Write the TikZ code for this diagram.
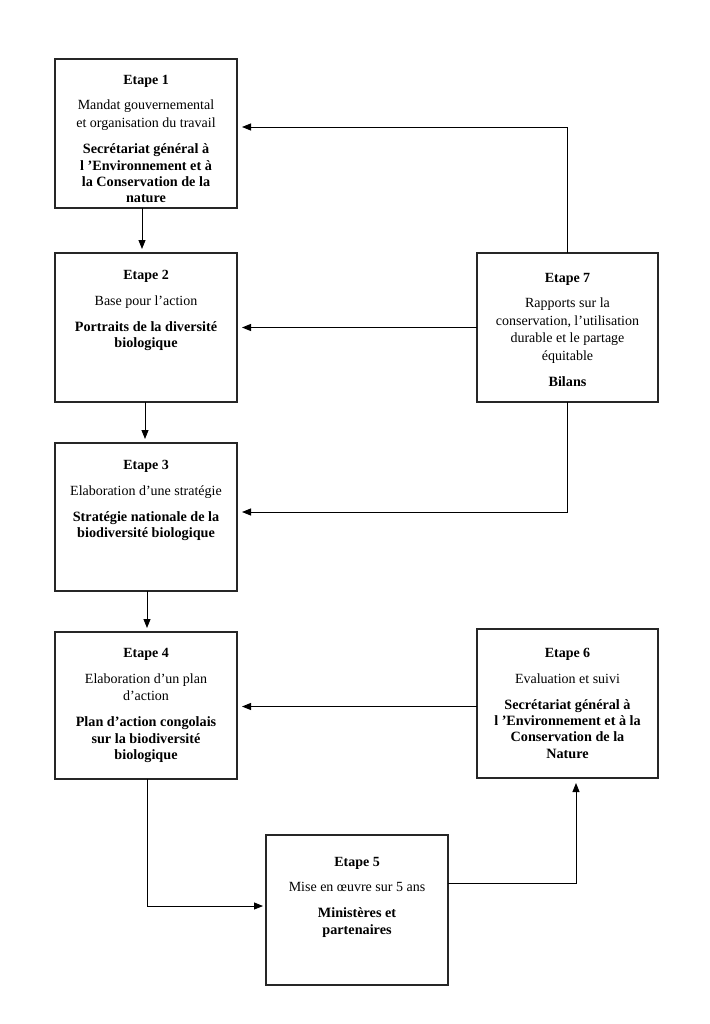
\documentclass[tikz,border=0pt]{standalone}
\usepackage{fontspec}
\setmainfont{Liberation Serif}
\usetikzlibrary{arrows.meta,calc}
\newcommand{\etapecontent}[6][25.5pt]{%
\begin{minipage}[t][#5][t]{#6}\centering
\fontsize{14}{17.5}\selectfont
\rule{0pt}{#1}\textbf{#2}\par
\vspace{8pt}
#3\par
\vspace{10pt}
{\bfseries\fontsize{14.2}{16.3}\selectfont #4\par}
\end{minipage}}
\tikzset{
  etapebox/.style={draw=black!85, line width=1.1pt, inner sep=0pt, outer sep=0pt, fill=white},
  arr/.style={draw=black, line width=0.9pt, -{Triangle[length=9pt,width=7pt]}, shorten >=4pt}
}
\begin{document}
\begin{tikzpicture}[x=1pt,y=1pt]
\useasboundingbox[fill=white] (0,0) rectangle (709,-1024);

\node[etapebox] (b1) at (146,-133.5) {\etapecontent{Etape 1}{Mandat gouvernemental\\et organisation du travail}{Secrétariat général à\\l ’Environnement et à\\la Conservation de la\\nature}{149pt}{182pt}};

\node[etapebox] (b2) at (146,-327.5) {\etapecontent[26.5pt]{Etape 2}{Base pour l’action}{Portraits de la diversité\\biologique}{149pt}{182pt}};

\node[etapebox] (b3) at (146,-517) {\etapecontent[26.5pt]{Etape 3}{Elaboration d’une stratégie}{Stratégie nationale de la\\biodiversité biologique}{148pt}{182pt}};

\node[etapebox] (b4) at (146,-705.5) {\etapecontent{Etape 4}{Elaboration d’un plan\\d’action}{Plan d’action congolais\\sur la biodiversité\\biologique}{147pt}{182pt}};

\node[etapebox] (b7) at (567.5,-327.5) {\etapecontent[29pt]{Etape 7}{Rapports sur la\\conservation, l’utilisation\\durable et le partage\\équitable}{Bilans}{149pt}{181pt}};

\node[etapebox] (b6) at (567.5,-703.5) {\etapecontent[28.5pt]{Etape 6}{Evaluation et suivi}{Secrétariat général à\\l ’Environnement et à la\\Conservation de la\\Nature}{149pt}{181pt}};

\node[etapebox] (b5) at (357,-910) {\etapecontent[31pt]{Etape 5}{Mise en œuvre sur 5 ans}{Ministères et\\partenaires}{150pt}{182pt}};

% vertical arrows on the left column
\draw[arr] ([xshift=-4pt]b1.south) -- ([xshift=-4pt]b2.north);
\draw[arr] ([xshift=-1pt]b2.south) -- ([xshift=-1pt]b3.north);
\draw[arr] ([xshift=1pt]b3.south) -- ([xshift=1pt]b4.north);

% feedback from Etape 7
\coordinate (c71) at ([yshift=6.5pt]b1.east);
\coordinate (c73) at ([yshift=5pt]b3.east);
\draw[arr,shorten >=5pt] (b7.north) |- (c71);
\draw[arr,shorten >=5pt] (b7.west) -- (b2.east);
\draw[arr,shorten >=5pt] (b7.south) |- (c73);

% Etape 6 to Etape 4
\coordinate (c64) at ([yshift=-3pt]b6.west);
\draw[arr,shorten >=5pt] (c64) -- (c64 -| b4.east);

% Etape 4 to Etape 5
\coordinate (c45) at ([xshift=1pt]b4.south);
\coordinate (c5w) at ([yshift=4pt]b5.west);
\draw[arr,shorten >=3pt] (c45) |- (c5w);

% Etape 5 to Etape 6
\coordinate (c5e) at ([yshift=27pt]b5.east);
\coordinate (c6s) at ([xshift=8.5pt]b6.south);
\draw[arr,shorten >=5pt] (c5e) -| (c6s);
\end{tikzpicture}
\end{document}
